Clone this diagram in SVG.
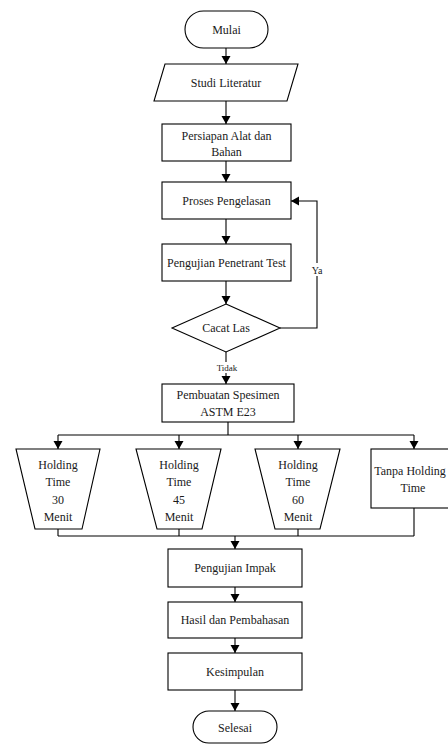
<svg xmlns="http://www.w3.org/2000/svg" width="448" height="744" viewBox="0 0 448 744">
<defs>
<marker id="arr" markerUnits="userSpaceOnUse" markerWidth="10" markerHeight="10" refX="8" refY="4.5" orient="auto">
<path d="M0,0 L8,4.5 L0,9 z" fill="#000"/>
</marker>
<style>
.s{fill:#fff;stroke:#000;stroke-width:1.1}
.t{font-family:"Liberation Serif","Times New Roman",serif;font-size:12px;fill:#1a1a1a;text-anchor:middle}
.sm{font-family:"Liberation Serif","Times New Roman",serif;font-size:9px;fill:#1a1a1a;text-anchor:middle}
.c{fill:none;stroke:#000;stroke-width:1.1}
.a{fill:none;stroke:#000;stroke-width:1.1;marker-end:url(#arr)}
</style>
</defs>
<rect width="448" height="744" fill="#fff"/>
<g id="connectors">
<line class="a" x1="226" y1="48" x2="226" y2="64"/>
<line class="a" x1="226" y1="101" x2="226" y2="124"/>
<line class="a" x1="226" y1="161" x2="226" y2="182"/>
<line class="a" x1="226" y1="219" x2="226" y2="244"/>
<line class="a" x1="226" y1="281" x2="226" y2="304"/>
<path class="a" d="M280,328 H317 V201 H291"/>
<line class="a" x1="226" y1="352" x2="226" y2="384"/>
<path class="c" d="M228,422 V435 M58,435 H414"/>
<line class="a" x1="58" y1="435" x2="58" y2="449"/>
<line class="a" x1="179" y1="435" x2="179" y2="449"/>
<line class="a" x1="298" y1="435" x2="298" y2="449"/>
<line class="a" x1="414" y1="435" x2="414" y2="449"/>
<path class="c" d="M58,529 V536 M179,529 V536 M298,529 V536 M414,508 V536 M58,536 H414"/>
<line class="a" x1="235" y1="536" x2="235" y2="549"/>
<line class="a" x1="235" y1="587" x2="235" y2="602"/>
<line class="a" x1="235" y1="638" x2="235" y2="653"/>
<line class="a" x1="235" y1="690" x2="235" y2="711"/>
<rect x="309" y="263" width="16" height="13" fill="#fff"/>
<text class="sm" x="317" y="274" style="font-size:10px">Ya</text>
<rect x="214" y="362" width="26" height="11" fill="#fff"/>
<text class="sm" x="227" y="371">Tidak</text>
</g>
<g id="mulai">
<rect class="s" x="185" y="11" width="83" height="37" rx="18.5"/>
<text class="t" x="226.5" y="34">Mulai</text>
</g>
<g id="studi-literatur">
<polygon class="s" points="165,64 298,64 287,101 154,101"/>
<text class="t" x="226" y="87">Studi Literatur</text>
</g>
<g id="persiapan">
<rect class="s" x="162" y="124" width="129" height="37"/>
<text class="t" x="226.5" y="140">Persiapan Alat dan</text>
<text class="t" x="226.5" y="156">Bahan</text>
</g>
<g id="proses-pengelasan">
<rect class="s" x="162" y="182" width="129" height="37"/>
<text class="t" x="226.5" y="205">Proses Pengelasan</text>
</g>
<g id="pengujian-penetrant">
<rect class="s" x="162" y="244" width="129" height="37"/>
<text class="t" x="226.5" y="267">Pengujian Penetrant Test</text>
</g>
<g id="cacat-las">
<polygon class="s" points="226,304 280,328 226,352 172,328"/>
<text class="t" x="226" y="332">Cacat Las</text>
</g>
<g id="pembuatan-spesimen">
<rect class="s" x="162" y="384" width="132" height="38"/>
<text class="t" x="228" y="399">Pembuatan Spesimen</text>
<text class="t" x="228" y="416">ASTM E23</text>
</g>
<g id="ht30">
<polygon class="s" points="16,449 100,449 82,529 35,529"/>
<text class="t" x="58" y="469">Holding</text>
<text class="t" x="58" y="486">Time</text>
<text class="t" x="58" y="504">30</text>
<text class="t" x="58" y="521">Menit</text>
</g>
<g id="ht45">
<polygon class="s" points="136,449 221,449 202,529 157,529"/>
<text class="t" x="179" y="469">Holding</text>
<text class="t" x="179" y="486">Time</text>
<text class="t" x="179" y="504">45</text>
<text class="t" x="179" y="521">Menit</text>
</g>
<g id="ht60">
<polygon class="s" points="255,449 340,449 320,529 275,529"/>
<text class="t" x="298" y="469">Holding</text>
<text class="t" x="298" y="486">Time</text>
<text class="t" x="298" y="504">60</text>
<text class="t" x="298" y="521">Menit</text>
</g>
<g id="tanpa-holding">
<rect class="s" x="371" y="449" width="86" height="59"/>
<text class="t" x="410" y="475">Tanpa Holding</text>
<text class="t" x="413" y="492">Time</text>
</g>
<g id="pengujian-impak">
<rect class="s" x="168" y="549" width="134" height="38"/>
<text class="t" x="235" y="572">Pengujian Impak</text>
</g>
<g id="hasil">
<rect class="s" x="168" y="602" width="134" height="36"/>
<text class="t" x="235" y="624">Hasil dan Pembahasan</text>
</g>
<g id="kesimpulan">
<rect class="s" x="168" y="653" width="134" height="37"/>
<text class="t" x="235" y="676">Kesimpulan</text>
</g>
<g id="selesai">
<rect class="s" x="193" y="711" width="84" height="32" rx="16"/>
<text class="t" x="235" y="732">Selesai</text>
</g>
</svg>
